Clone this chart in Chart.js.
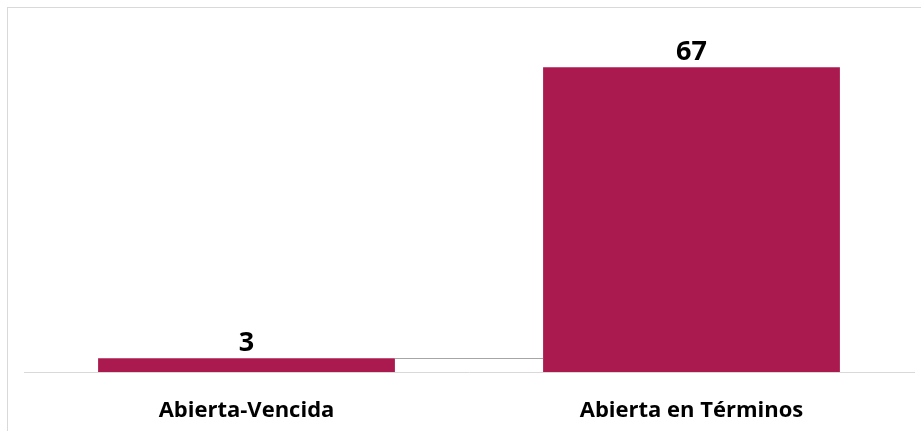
<!DOCTYPE html>
<html><head><meta charset="utf-8">
<script src="https://cdn.jsdelivr.net/npm/chart.js@4.4.1/dist/chart.umd.min.js"></script>
<style>
html,body{margin:0;padding:0;background:#fff;}
#wrap{position:relative;width:921px;height:431px;overflow:hidden;}
#frame{position:absolute;left:7px;top:7px;width:1000px;height:1000px;border-left:1px solid #d9d9d9;border-top:1px solid #d9d9d9;pointer-events:none;}
canvas{position:absolute;left:0;top:0;}
</style></head>
<body>
<div id="wrap"><canvas id="c" width="921" height="431"></canvas><div id="frame"></div></div>
<script>
const categories = ["Abierta-Vencida", "Abierta en Términos"];
const values = [3, 67];
const barColor = "#ab1a4e";

const FONT = "'Open Sans', 'Noto Sans', sans-serif";

const valueLabels = {
  id: 'valueLabels',
  afterDatasetsDraw(chart) {
    const ctx = chart.ctx;
    const meta = chart.getDatasetMeta(0);
    ctx.save();
    ctx.font = "bold 27px " + FONT;
    ctx.fillStyle = "#000";
    ctx.textAlign = "center";
    ctx.textBaseline = "alphabetic";
    meta.data.forEach((bar, i) => {
      ctx.fillText(String(values[i]), bar.x, bar.y - 7);
    });
    ctx.restore();
  }
};

const connector = {
  id: 'connector',
  afterDatasetsDraw(chart) {
    const ctx = chart.ctx;
    const meta = chart.getDatasetMeta(0);
    const y = chart.scales.y.getPixelForValue(values[0]);
    const b0 = meta.data[0], b1 = meta.data[1];
    ctx.save();
    ctx.strokeStyle = "#a6a6a6";
    ctx.lineWidth = 1;
    ctx.beginPath();
    ctx.moveTo(b0.x + b0.width / 2, Math.round(y) + 0.5);
    ctx.lineTo(b1.x - b1.width / 2, Math.round(y) + 0.5);
    ctx.stroke();
    ctx.restore();
  }
};

new Chart(document.getElementById('c'), {
  type: 'bar',
  data: {
    labels: categories,
    datasets: [{
      data: values,
      backgroundColor: barColor,
      borderWidth: 0,
      categoryPercentage: 1,
      barPercentage: 0.667
    }]
  },
  options: {
    responsive: false,
    animation: false,
    events: [],
    layout: { padding: { left: 24, right: 7, top: 8, bottom: 0 } },
    plugins: { legend: { display: false }, tooltip: { enabled: false } },
    scales: {
      x: {
        grid: { display: false, drawTicks: false },
        border: { display: true, color: "#d9d9d9", width: 1 },
        ticks: { color: "#000", font: { family: FONT, size: 22, weight: 'bold' }, padding: 26, maxRotation: 0 },
        afterFit(s) { s.height = 59; }
      },
      y: {
        display: false,
        min: 0,
        max: 80
      }
    }
  },
  plugins: [connector, valueLabels]
});
</script>
</body></html>
